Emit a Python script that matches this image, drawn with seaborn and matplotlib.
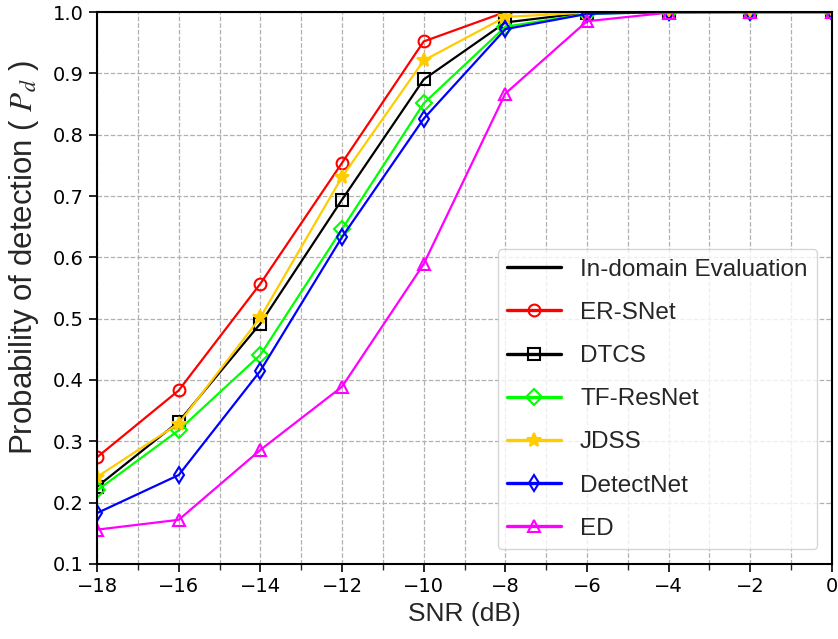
import matplotlib
matplotlib.use("Agg")
import matplotlib.pyplot as plt
from matplotlib.lines import Line2D
from matplotlib.ticker import MultipleLocator
import seaborn as sns
import pandas as pd

# SNR sweep (dB)
snr = [-18, -16, -14, -12, -10, -8, -6, -4, -2, 0]

# Probability of detection for each method
er_snet = [0.274, 0.383, 0.557, 0.754, 0.952, 1.000, 1.000, 1.000, 1.000, 1.000]
dtcs = [0.226, 0.332, 0.492, 0.694, 0.890, 0.983, 0.999, 1.000, 1.000, 1.000]
tf_resnet = [0.220, 0.318, 0.441, 0.646, 0.851, 0.976, 0.997, 1.000, 1.000, 1.000]
jdss = [0.242, 0.329, 0.502, 0.731, 0.921, 0.992, 0.999, 1.000, 1.000, 1.000]
detectnet = [0.183, 0.245, 0.415, 0.633, 0.826, 0.972, 0.997, 1.000, 1.000, 1.000]
ed = [0.156, 0.172, 0.286, 0.389, 0.589, 0.867, 0.985, 0.999, 1.000, 1.000]

methods = ["ER-SNet", "DTCS", "TF-ResNet", "JDSS", "DetectNet", "ED"]
values = [er_snet, dtcs, tf_resnet, jdss, detectnet, ed]
colors = ["#ff0000", "#000000", "#00ff00", "#ffcc00", "#0000ff", "#ff00ff"]
markers = ["o", "s", "D", "*", "d", "^"]
filled = [False, False, False, True, False, False]

df = pd.concat(
    [pd.DataFrame({"SNR": snr, "Pd": v, "Method": m}) for m, v in zip(methods, values)],
    ignore_index=True,
)

sns.set_style("ticks")
plt.rcParams["font.family"] = ["DejaVu Sans"]
plt.rcParams["mathtext.fontset"] = "stix"

fig = plt.figure(figsize=(8.38, 6.39), dpi=100)
ax = fig.add_axes([0.1158, 0.1174, 0.877, 0.8638])

for m, c, mk, f in zip(methods, colors, markers, filled):
    sub = df[df["Method"] == m]
    ms = 10 if mk == "*" else 8.5
    sns.lineplot(
        data=sub, x="SNR", y="Pd", ax=ax, color=c, label=m,
        marker=mk, markersize=ms, linewidth=1.6,
        markerfacecolor=c if f else "none", markeredgecolor=c,
        markeredgewidth=1.5, sort=False, errorbar=None,
    )

ax.set_xlim(-18, 0)
ax.set_ylim(0.1, 1.0)
ax.xaxis.set_major_locator(MultipleLocator(2))
ax.xaxis.set_minor_locator(MultipleLocator(1))
ax.yaxis.set_major_locator(MultipleLocator(0.1))
ax.set_xticks(snr)
ax.set_xticklabels([f"{v}".replace("-", "\u2212") for v in snr])
ax.grid(which="both", axis="x", linestyle="--", color="#b0b0b0", linewidth=0.9)
ax.grid(which="major", axis="y", linestyle="--", color="#b0b0b0", linewidth=0.9)
ax.tick_params(axis="both", which="major", labelsize=14, length=6, width=1.2, colors="black")
ax.tick_params(axis="x", which="minor", length=4, width=1.0)
for s in ax.spines.values():
    s.set_linewidth(1.5)
    s.set_color("black")

ax.set_xlabel("SNR (dB)", fontsize=19, family="Liberation Sans", labelpad=4)
ax.set_ylabel("Probability of detection ( $P_d$ )", fontsize=22.5,
              family="Liberation Sans")
ax.yaxis.set_label_coords(-0.076, 0.555)

handles, labels = ax.get_legend_handles_labels()
ref = Line2D([], [], color="black")
leg = ax.legend(
    [ref] + handles, ["In-domain Evaluation"] + labels,
    loc="lower right", prop={"family": "Liberation Sans", "size": 17.5},
    handlelength=2.2, labelspacing=0.87, borderaxespad=0.6, frameon=True,
    fancybox=True, framealpha=0.8, edgecolor="#cccccc",
)
for ln in leg.get_lines():
    ln.set_linewidth(2.4)

fig.savefig("out.png", dpi=100)
